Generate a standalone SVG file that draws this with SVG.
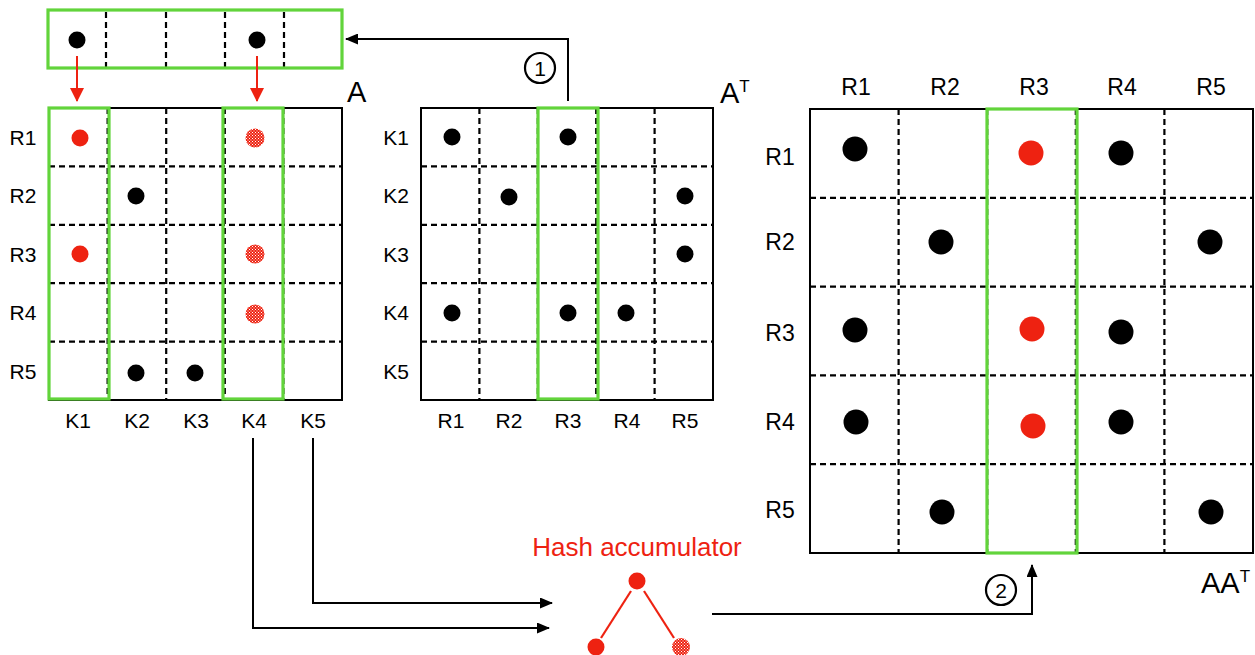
<svg xmlns="http://www.w3.org/2000/svg" width="1255" height="655" viewBox="0 0 1255 655">
<style>
text{font-family:"Liberation Sans",Arial,sans-serif;fill:#000}
.lbl{font-size:21px;text-anchor:middle}
.lbl2{font-size:23px;text-anchor:middle}
.big{font-size:29px}
.sup{font-size:17px}
.border{fill:none;stroke:#000;stroke-width:2}
.dash{stroke:#000;stroke-width:2.2;stroke-dasharray:6 4;fill:none}
.green{fill:none;stroke:#62d43b;stroke-width:3.2}
.blk{fill:#000}
.red{fill:#ee2211}
.hat{fill:url(#hatch)}
.conn{fill:none;stroke:#000;stroke-width:2}
.rconn{fill:none;stroke:#ee2211;stroke-width:2}
.circ{fill:#fff;stroke:#000;stroke-width:2.2}
.num{font-size:21px;text-anchor:middle}
</style>
<defs>
<pattern id="hatch" width="3" height="3" patternUnits="userSpaceOnUse">
<rect width="3" height="3" fill="#ee2211"/>
<rect x="0" y="0" width="1" height="1" fill="#fff"/>
<rect x="1.5" y="1.5" width="1" height="1" fill="#fff"/>
</pattern>
<marker id="ah" markerWidth="13" markerHeight="11" refX="12" refY="5.5" orient="auto" markerUnits="userSpaceOnUse">
<path d="M0,0 L13,5.5 L0,11 Z" fill="#000"/>
</marker>
<marker id="ahr" markerWidth="14" markerHeight="14" refX="13" refY="7" orient="auto" markerUnits="userSpaceOnUse">
<path d="M0,0 L14,7 L0,14 Z" fill="#ee2211"/>
</marker>
</defs>
<rect width="1255" height="655" fill="#fff"/>

<g id="vector">
<path class="dash" d="M106,12V67M166,12V67M225,12V67M284,12V67"/>
<rect class="green" x="48" y="10" width="294" height="58"/>
<circle class="blk" cx="77" cy="40" r="8.5"/>
<circle class="blk" cx="257" cy="40" r="8.5"/>
</g>

<g id="matrixA">
<path class="dash" d="M49,166.4H342M49,224.8H342M49,283.2H342M49,341.6H342M107.6,108V400M166.2,108V400M224.8,108V400M283.4,108V400"/>
<rect class="border" x="49" y="108" width="293" height="292"/>
<rect class="green" x="49" y="108" width="60" height="291"/>
<rect class="green" x="223" y="108" width="60" height="291"/>
<circle class="red" cx="80" cy="138" r="8.5"/>
<circle class="red" cx="80" cy="254" r="8.5"/>
<circle class="blk" cx="136" cy="196" r="8.5"/>
<circle class="blk" cx="136" cy="373" r="8.5"/>
<circle class="blk" cx="195" cy="373" r="8.5"/>
<circle class="hat" cx="255" cy="138" r="9.5"/>
<circle class="hat" cx="255" cy="254" r="9.5"/>
<circle class="hat" cx="255" cy="314" r="9.5"/>
<text class="lbl" x="23" y="145">R1</text>
<text class="lbl" x="23" y="203">R2</text>
<text class="lbl" x="23" y="262">R3</text>
<text class="lbl" x="23" y="320">R4</text>
<text class="lbl" x="23" y="379">R5</text>
<text class="lbl" x="78" y="428">K1</text>
<text class="lbl" x="137" y="428">K2</text>
<text class="lbl" x="196" y="428">K3</text>
<text class="lbl" x="254" y="428">K4</text>
<text class="lbl" x="313" y="428">K5</text>
<text class="big" x="347" y="102">A</text>
</g>

<g id="matrixAT">
<path class="dash" d="M421,166.4H713M421,224.8H713M421,283.2H713M421,341.6H713M479.4,108V400M537.8,108V400M596.2,108V400M654.6,108V400"/>
<rect class="border" x="421" y="108" width="292" height="292"/>
<rect class="green" x="538" y="108" width="60" height="291"/>
<circle class="blk" cx="452" cy="137" r="8.5"/>
<circle class="blk" cx="568" cy="137" r="8.5"/>
<circle class="blk" cx="509" cy="197" r="8.5"/>
<circle class="blk" cx="685" cy="196" r="8.5"/>
<circle class="blk" cx="685" cy="254" r="8.5"/>
<circle class="blk" cx="452" cy="313" r="8.5"/>
<circle class="blk" cx="568" cy="313" r="8.5"/>
<circle class="blk" cx="626" cy="313" r="8.5"/>
<text class="lbl" x="396" y="145">K1</text>
<text class="lbl" x="396" y="203">K2</text>
<text class="lbl" x="396" y="262">K3</text>
<text class="lbl" x="396" y="320">K4</text>
<text class="lbl" x="396" y="379">K5</text>
<text class="lbl" x="451" y="428">R1</text>
<text class="lbl" x="509" y="428">R2</text>
<text class="lbl" x="568" y="428">R3</text>
<text class="lbl" x="627" y="428">R4</text>
<text class="lbl" x="685" y="428">R5</text>
<text x="720" y="103"><tspan class="big">A</tspan><tspan class="sup" dy="-11">T</tspan></text>
</g>

<g id="matrixAAT">
<path class="dash" d="M810,197.8H1253M810,286.6H1253M810,375.4H1253M810,464.2H1253M898.6,109V553M987.2,109V553M1075.8,109V553M1164.4,109V553"/>
<rect class="border" x="810" y="109" width="443" height="444"/>
<rect class="green" x="987" y="109" width="90" height="444"/>
<circle class="blk" cx="855" cy="149" r="12.5"/>
<circle class="red" cx="1031" cy="153" r="12.5"/>
<circle class="blk" cx="1121" cy="153" r="12.5"/>
<circle class="blk" cx="941" cy="242" r="12.5"/>
<circle class="blk" cx="1210" cy="242" r="12.5"/>
<circle class="blk" cx="855" cy="330" r="12.5"/>
<circle class="red" cx="1032" cy="329" r="12.5"/>
<circle class="blk" cx="1121" cy="332" r="12.5"/>
<circle class="blk" cx="856" cy="422" r="12.5"/>
<circle class="red" cx="1033" cy="426" r="12.5"/>
<circle class="blk" cx="1121" cy="422" r="12.5"/>
<circle class="blk" cx="942" cy="512" r="12.5"/>
<circle class="blk" cx="1211" cy="512" r="12.5"/>
<text class="lbl2" x="856" y="95">R1</text>
<text class="lbl2" x="945" y="95">R2</text>
<text class="lbl2" x="1034" y="95">R3</text>
<text class="lbl2" x="1122" y="95">R4</text>
<text class="lbl2" x="1211" y="95">R5</text>
<text class="lbl2" x="780" y="165">R1</text>
<text class="lbl2" x="780" y="250">R2</text>
<text class="lbl2" x="780" y="341">R3</text>
<text class="lbl2" x="780" y="430">R4</text>
<text class="lbl2" x="780" y="518">R5</text>
<text x="1201" y="593"><tspan class="big">AA</tspan><tspan class="sup" dy="-11">T</tspan></text>
</g>

<g id="hash">
<text x="637" y="556" style="font-size:26px;fill:#ee2211;text-anchor:middle">Hash accumulator</text>
<line x1="631" y1="591" x2="601" y2="638" stroke="#ee2211" stroke-width="2.2"/>
<line x1="644" y1="591" x2="674" y2="638" stroke="#ee2211" stroke-width="2.2"/>
<circle class="red" cx="637" cy="581" r="8.5"/>
<circle class="red" cx="596" cy="647" r="8.5"/>
<circle class="hat" cx="681" cy="647" r="9"/>
</g>

<g id="connectors">
<path class="conn" d="M568,101V39H346" marker-end="url(#ah)"/>
<circle class="circ" cx="540" cy="68" r="15"/>
<text class="num" x="540" y="75.5">1</text>
<path class="rconn" d="M77,56V101" marker-end="url(#ahr)"/>
<path class="rconn" d="M257,56V101" marker-end="url(#ahr)"/>
<path class="conn" d="M313,438V603H552" marker-end="url(#ah)"/>
<path class="conn" d="M253,438V628H549" marker-end="url(#ah)"/>
<path class="conn" d="M712,614H1032V565" marker-end="url(#ah)"/>
<circle class="circ" cx="1001" cy="590" r="15"/>
<text class="num" x="1001" y="597.5">2</text>
</g>
</svg>
